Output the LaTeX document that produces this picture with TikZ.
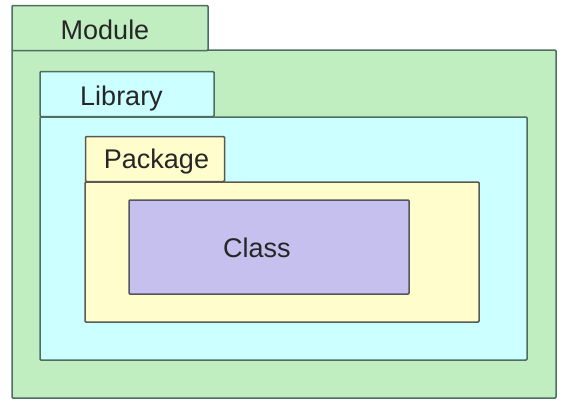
\documentclass[tikz,border=0pt]{standalone}
\usepackage{fontspec}
\setmainfont{Liberation Sans}
\usepackage{xcolor}
\usepackage{tikz}
\usetikzlibrary{positioning}

\definecolor{modgreen}{HTML}{C1EEC0}
\definecolor{libcyan}{HTML}{CCFFFF}
\definecolor{pkgyellow}{HTML}{FFFDCC}
\definecolor{clspurple}{HTML}{C6C0EF}
\definecolor{edgegreen}{HTML}{4E6E62}
\definecolor{edgegray}{HTML}{55555F}

\tikzset{
  frame/.style={draw=edgegreen, line width=1.5pt, rounded corners=1pt},
  tab/.style={frame, minimum height=45pt, inner sep=0pt},
  caption/.style={anchor=base, inner sep=0pt,
    font=\fontsize{27}{30}\selectfont, text=black!85}
}

\begin{document}
\begin{tikzpicture}[x=1pt,y=-1pt]
        \useasboundingbox (0,0) rectangle (571,415);

        % Module
        \draw[frame, fill=modgreen] (12,50) rectangle (556,398);
        \node[tab, fill=modgreen, minimum width=196pt] (module) at (110,28) {};
        \node[caption] (modtext) at (105,39) {Module};

        % Library
        \draw[frame, fill=libcyan] (40,117) rectangle (527,360);
        \node[tab, fill=libcyan, minimum width=174pt] (library) at (127,94) {};
        \node[caption] (libtext) at (121.5,105) {Library};

        % Package
        \draw[frame, draw=edgegray!90!olive, fill=pkgyellow] (85,182) rectangle (479,322);
        \node[tab, draw=edgegray!90!olive, fill=pkgyellow, minimum width=139pt] (package) at (155,159) {};
        \node[caption] (pkgtext) at (156.5,168) {Package};

        % Class
        \node[frame, draw=edgegray, fill=clspurple, minimum width=280pt, minimum height=94pt] (class) at (269,247) {};
        \node[caption] (clstext) at (257,257) {Class};
    \end{tikzpicture}
\end{document}
